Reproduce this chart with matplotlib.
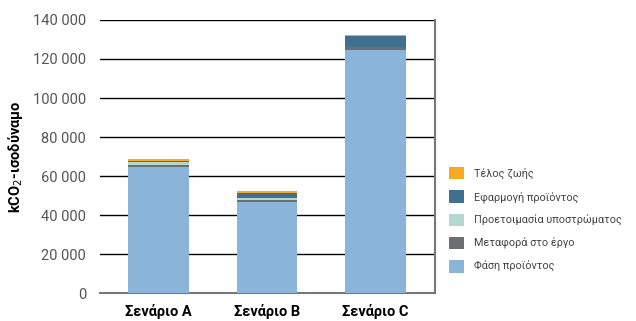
import matplotlib
matplotlib.use('Agg')
import matplotlib.pyplot as plt
import numpy as np
from matplotlib.ticker import FuncFormatter

scenarios = ['Σενάριο A', 'Σενάριο B', 'Σενάριο C']
phase = [64.8, 46.7, 124.6]        # Φάση προϊόντος (thousand kCO2-eq)
transport = [1.0, 1.0, 1.4]        # Μεταφορά στο έργο
prep = [1.2, 1.2, 0.0]             # Προετοιμασία υποστρώματος
use = [0.8, 2.4, 5.9]              # Εφαρμογή προϊόντος
eol = [0.9, 1.0, 0.35]             # Τέλος ζωής

layers = [
    (phase, 'Φάση προϊόντος', '#8AB4D8'),
    (transport, 'Μεταφορά στο έργο', '#6D6E71'),
    (prep, 'Προετοιμασία υποστρώματος', '#B3D9CF'),
    (use, 'Εφαρμογή προϊόντος', '#41708F'),
    (eol, 'Τέλος ζωής', '#F9A825'),
]

plt.rcParams['font.family'] = ['Roboto', 'DejaVu Sans']

fig = plt.figure(figsize=(6.36, 3.21), dpi=100)
ax = fig.add_axes([0.157, 0.0872, 0.527, 0.8505])

x = np.arange(len(scenarios))
bottom = np.zeros(len(scenarios))
for vals, label, color in layers:
    v = np.array(vals) * 1000
    ax.bar(x, v, 0.56, bottom=bottom, color=color, label=label, zorder=3)
    bottom += v

ax.set_ylim(0, 140000)
ax.set_xlim(-0.54, 2.55)
ax.set_yticks(np.arange(0, 140001, 20000))
ax.yaxis.set_major_formatter(FuncFormatter(lambda v, p: f'{int(v):,}'.replace(',', ' ')))
ax.grid(axis='y', color='black', linewidth=1.0, zorder=0)
ax.tick_params(axis='y', length=0, pad=10, labelsize=10.5, labelcolor='#555555')
ax.tick_params(axis='x', length=0, pad=8, labelsize=10.5)
ax.set_xticks(x)
ax.set_xticklabels(scenarios, fontweight='bold')
ax.set_ylabel('kCO$_2$-ισοδύναμο', fontsize=10.5, fontweight='bold', labelpad=6)

for s in ['left', 'top']:
    ax.spines[s].set_visible(False)
ax.spines['bottom'].set_color('#777777')
ax.spines['bottom'].set_linewidth(1.5)
ax.spines['right'].set_color('#777777')
ax.spines['right'].set_linewidth(1.5)

handles, labels = ax.get_legend_handles_labels()
leg = fig.legend(handles[::-1], labels[::-1], loc='center left',
                 bbox_to_anchor=(0.69, 0.315), frameon=False,
                 fontsize=7.8, handlelength=1.4, handleheight=1.4,
                 labelspacing=1.0, handletextpad=0.9)
for t in leg.get_texts():
    t.set_color('#444444')

fig.savefig('out.png', dpi=100)
